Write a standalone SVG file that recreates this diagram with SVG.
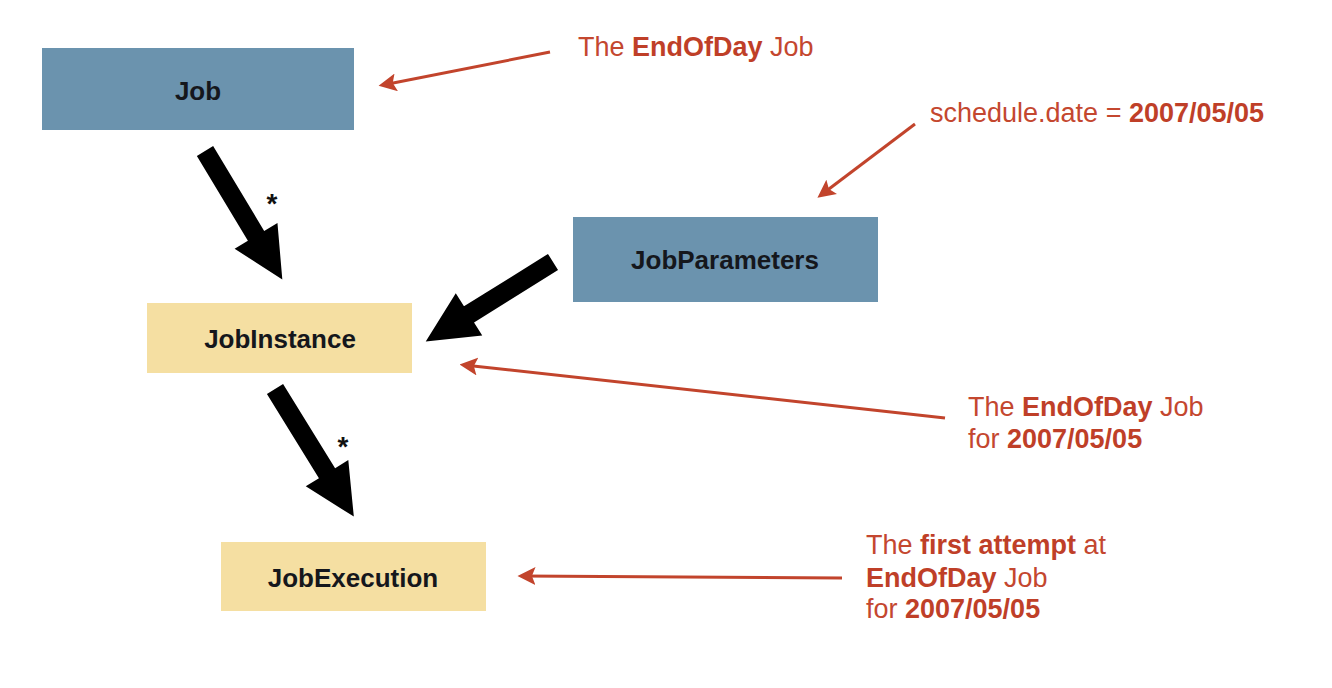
<svg xmlns="http://www.w3.org/2000/svg" width="1332" height="688" viewBox="0 0 1332 688">
<style>
.blue{fill:#6b93ae}
.yellow{fill:#f5dfa2}
.lbl{font-family:"Liberation Sans",Arial,sans-serif;font-weight:bold;font-size:26px;fill:#15171c;text-anchor:middle}
.note{font-family:"Liberation Sans",Arial,sans-serif;font-size:27px;fill:#c4472f}
.note .b{font-weight:bold;fill:#bf3f28}
.star{font-family:"Liberation Sans",Arial,sans-serif;font-weight:bold;font-size:28px;fill:#111;text-anchor:middle}
.red{stroke:#c2442c;stroke-width:3;fill:none;marker-end:url(#rh)}
</style>
<defs>
<marker id="rh" markerWidth="6" markerHeight="6" refX="4.5" refY="3" orient="auto" markerUnits="strokeWidth">
<path d="M0,0 L6,3 L0,6 L1.2,3 Z" fill="#c2442c"/>
</marker>
<polygon id="big" points="0,-9.5 99,-9.5 99,-25 150,0 99,25 99,9.5 0,9.5" fill="#000"/>
</defs>
<rect width="1332" height="688" fill="#fff"/>
<g id="job"><rect class="blue" x="42" y="48" width="312" height="82"/><text class="lbl" x="198" y="100">Job</text></g>
<g id="jobparameters"><rect class="blue" x="573" y="217" width="305" height="85"/><text class="lbl" x="725" y="269">JobParameters</text></g>
<g id="jobinstance"><rect class="yellow" x="147" y="303" width="265" height="70"/><text class="lbl" x="280" y="348">JobInstance</text></g>
<g id="jobexecution"><rect class="yellow" x="221" y="542" width="265" height="69"/><text class="lbl" x="353" y="587">JobExecution</text></g>
<g id="connectors">
<use href="#big" transform="translate(205,151) rotate(58.97)"/>
<use href="#big" transform="translate(275,389) rotate(58.3)"/>
<use href="#big" transform="translate(553,262) rotate(148.04)"/>
<text class="star" x="272" y="213">*</text>
<text class="star" x="343" y="456">*</text>
<line class="red" x1="550" y1="52" x2="383" y2="85"/>
<line class="red" x1="915" y1="124" x2="821" y2="195"/>
<line class="red" x1="945" y1="418" x2="464" y2="365"/>
<line class="red" x1="842" y1="578" x2="522" y2="576"/>
</g>
<g id="notes">
<text class="note" x="578" y="56">The <tspan class="b">EndOfDay</tspan> Job</text>
<text class="note" x="930" y="122">schedule.date = <tspan class="b">2007/05/05</tspan></text>
<text class="note" x="968" y="416">The <tspan class="b">EndOfDay</tspan> Job</text>
<text class="note" x="968" y="448">for <tspan class="b">2007/05/05</tspan></text>
<text class="note" x="866" y="554">The <tspan class="b">first attempt</tspan> at</text>
<text class="note" x="866" y="587"><tspan class="b">EndOfDay</tspan> Job</text>
<text class="note" x="866" y="618">for <tspan class="b">2007/05/05</tspan></text>
</g>
</svg>
